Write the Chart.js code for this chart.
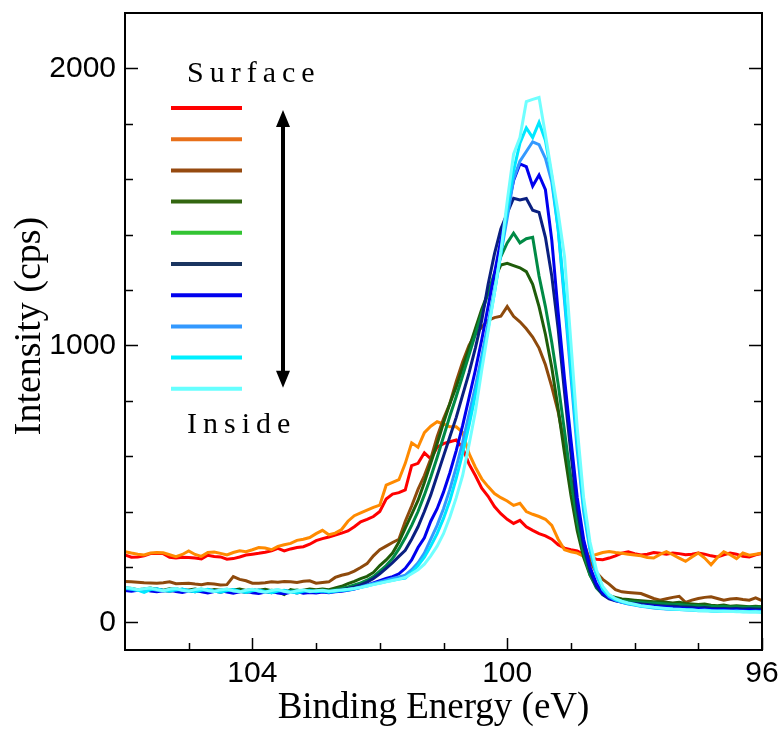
<!DOCTYPE html>
<html>
<head>
<meta charset="utf-8">
<script src="https://cdn.jsdelivr.net/npm/chart.js@4.4.1/dist/chart.umd.min.js"></script>
<style>
  html, body { margin: 0; padding: 0; background: #fff; }
  #wrap { width: 782px; height: 731px; position: relative; }
</style>
</head>
<body>
<div id="wrap"><canvas id="c" width="782" height="731"></canvas></div>
<script>
// Binding energy grid (eV), high to low
const energies = [
  106.0,105.9,105.8,105.7,105.6,105.5,105.4,105.3,105.2,105.1,
  105.0,104.9,104.8,104.7,104.6,104.5,104.4,104.3,104.2,104.1,
  104.0,103.9,103.8,103.7,103.6,103.5,103.4,103.3,103.2,103.1,
  103.0,102.9,102.8,102.7,102.6,102.5,102.4,102.3,102.2,102.1,
  102.0,101.9,101.8,101.7,101.6,101.5,101.4,101.3,101.2,101.1,
  101.0,100.9,100.8,100.7,100.6,100.5,100.4,100.3,100.2,100.1,
  100.0,99.9,99.8,99.7,99.6,99.5,99.4,99.3,99.2,99.1,
  99.0,98.9,98.8,98.7,98.6,98.5,98.4,98.3,98.2,98.1,
  98.0,97.9,97.8,97.7,97.6,97.5,97.4,97.3,97.2,97.1,
  97.0,96.9,96.8,96.7,96.6,96.5,96.4,96.3,96.2,96.1,
  96.0
];

// Intensity (cps), one spectrum per depth, surface first
const depth1 = [
  243,235,236,240,248,249,248,235,232,235,234,232,229,242,238,236,228,230,236,243,
  246,249,253,258,267,258,265,270,273,282,295,302,308,315,322,330,345,363,372,382,400,
  445,463,468,478,566,574,612,590,632,645,652,658,630,572,530,484,455,418,392,372,357,368,345,332,320,
  312,300,280,268,262,258,245,235,228,226,232,240,250,255,248,243,246,252,249,246,
  250,248,244,246,250,246,240,236,244,250,246,238,236,244,249
];
const depth2 = [
  255,250,246,243,250,252,251,244,237,245,258,245,238,252,254,249,243,252,258,255,
  262,270,268,262,274,280,285,296,300,306,320,332,316,322,335,365,385,395,405,415,423,
  495,505,515,574,648,632,685,708,724,716,706,706,686,610,560,518,490,465,450,438,422,430,400,390,382,
  372,350,300,262,255,250,238,236,245,252,256,252,249,246,243,240,234,232,245,255,
  244,232,220,236,250,232,208,234,255,244,230,250,242,246,250
];
const depth3 = [
  147,146,145,143,142,141,143,146,139,140,141,138,136,140,138,135,136,165,155,150,
  141,141,143,146,145,147,146,144,148,150,141,144,146,162,170,175,185,198,212,240,262,
  275,288,300,365,420,480,530,590,670,735,790,870,
  940,1000,1040,1065,1090,1100,1105,1140,1105,1085,1060,1030,990,930,850,760,640,520,400,290,
  220,180,155,138,118,110,108,106,104,95,86,80,85,90,94,72,80,86,90,92,86,80,84,86,82,80,88,78
];
const depth4 = [
  125,122,118,120,124,119,116,121,118,114,117,120,115,112,118,116,113,117,120,115,
  112,116,119,114,110,100,118,113,116,120,
  118,120,118,124,130,140,148,158,166,180,205,225,250,290,
  340,390,440,505,575,645,720,790,850,920,990,1060,1130,1190,1240,1290,1296,1288,1280,1266,
  1220,1140,1040,920,770,610,460,330,235,170,130,108,96,90,84,82,80,78,76,74,
  74,72,70,72,68,66,64,66,62,60,62,58,60,58,56,58,56
];
const depth5 = [
  120,118,115,119,122,117,114,118,121,116,113,117,119,114,111,116,118,113,110,115,
  118,114,111,116,113,109,114,117,112,115,
  113,116,114,118,122,128,135,142,152,165,185,205,230,265,
  305,350,400,460,525,595,670,745,815,890,965,1040,1115,1190,1260,1320,1370,1405,1370,1385,
  1390,1250,1140,1010,860,690,515,365,250,172,124,100,88,82,78,76,74,72,70,70,
  68,66,64,64,62,60,60,58,58,56,57,55,56,54,55,54,55
];
const depth6 = [
  118,121,116,113,117,120,115,112,116,119,114,110,115,118,113,109,114,117,112,108,
  113,116,111,107,112,115,110,106,111,114,
  110,113,111,114,118,122,128,135,145,158,175,195,215,238,
  260,300,345,400,460,530,600,670,740,820,900,990,1090,1220,1330,1420,1477,1531,1525,1530,
  1488,1480,1390,1250,1060,830,610,410,275,185,130,100,85,78,74,70,68,66,64,62,
  60,58,58,56,55,54,52,53,51,50,50,49,50,48,49,48,47
];
const depth7 = [
  115,112,116,119,113,110,114,117,111,108,113,116,110,106,111,115,109,105,110,113,
  107,104,109,112,106,103,108,111,105,108,
  106,109,107,110,112,116,120,126,134,142,150,158,165,175,
  195,225,270,305,365,410,470,540,620,710,810,910,1020,1140,1260,1380,1490,1595,1655,1645,
  1575,1615,1562,1380,1120,880,660,450,300,200,140,105,88,78,72,68,65,62,60,58,
  56,55,53,52,50,48,49,47,46,45,46,44,45,43,44,42,43
];
const depth8 = [
  122,119,115,118,121,116,113,118,120,115,112,117,119,114,111,116,119,113,110,115,
  118,112,109,114,117,111,108,113,116,110,
  112,114,110,113,116,118,122,128,134,140,146,152,158,164,
  170,190,215,250,300,350,410,480,560,650,750,850,960,1080,1200,1330,1460,1600,1665,1700,
  1735,1725,1675,1590,1420,1160,890,620,400,260,170,118,92,80,72,66,62,58,55,52,
  50,48,47,46,45,44,43,44,42,41,42,40,41,40,39,40,39
];
const depth9 = [
  124,120,116,108,118,121,115,112,117,120,114,110,116,119,113,109,115,118,112,108,
  114,117,111,107,113,116,110,106,112,115,
  110,113,109,112,115,117,121,126,131,137,142,147,152,156,
  160,180,205,235,275,320,375,440,520,610,710,820,935,1060,1190,1330,1490,1630,1730,1785,
  1750,1805,1740,1610,1420,1180,920,650,420,270,175,120,95,82,74,68,63,59,56,53,
  51,49,47,46,45,44,42,43,41,40,41,39,40,38,39,38,37
];
const depth10 = [
  126,123,118,121,124,118,114,119,122,116,112,118,121,115,111,117,120,114,110,116,
  119,113,109,115,118,112,108,114,117,111,
  114,116,112,115,117,119,122,126,131,136,141,146,151,156,
  162,175,190,210,240,275,320,380,450,530,640,760,910,1050,1190,1340,1520,1690,1750,1880,
  1888,1895,1760,1620,1480,1320,1010,700,450,290,190,130,100,85,76,70,65,60,57,54,
  52,50,48,47,45,44,43,42,41,40,39,40,38,39,37,38,36
];

const spectra = [depth1, depth2, depth3, depth4, depth5, depth6, depth7, depth8, depth9, depth10];
const lineColors = ['#ff0000', '#ff8a00', '#8e4a0c', '#1f5c0a', '#008a45', '#0a1f80', '#0000ee', '#3399ff', '#00e8ff', '#70ffff'];
const keyColors  = ['#ff0000', '#e8701a', '#964a10', '#336610', '#33c433', '#1a3560', '#0000ee', '#3399ff', '#00f0ff', '#66ffff'];

// Axis ticks
const xMajorTicks = [104, 100, 96];
const xMinorTicks = [105, 104, 103, 102, 101, 100, 99, 98, 97, 96];
const yLabelTicks = [0, 1000, 2000];
const yMinorTicks = [0, 200, 400, 600, 800, 1000, 1200, 1400, 1600, 1800, 2000];

const keyTop = 'Surface';
const keyBottom = 'Inside';
const xTitle = 'Binding Energy (eV)';
const yTitle = 'Intensity (cps)';

const SANS = '"Liberation Sans", Arial, sans-serif';
const SERIF = '"Liberation Serif", "Times New Roman", serif';

function spacedText(ctx, text, x, y, spacing) {
  let cx = x;
  for (const ch of text) {
    ctx.fillText(ch, cx, y);
    cx += ctx.measureText(ch).width + spacing;
  }
}

const framePlugin = {
  id: 'frameAndKey',
  afterDraw(chart) {
    const { ctx, chartArea: a, scales: { x, y } } = chart;
    ctx.save();
    ctx.strokeStyle = '#000';
    ctx.lineWidth = 2;
    ctx.lineCap = 'butt';
    ctx.strokeRect(a.left, a.top, a.right - a.left, a.bottom - a.top);

    ctx.lineWidth = 1.5;
    ctx.beginPath();
    xMinorTicks.forEach(v => {
      const px = Math.round(x.getPixelForValue(v)) + 0.5;
      const len = xMajorTicks.includes(v) ? 12 : 7;
      ctx.moveTo(px, a.bottom); ctx.lineTo(px, a.bottom - len);
    });
    yMinorTicks.forEach(v => {
      const py = Math.round(y.getPixelForValue(v)) + 0.5;
      const len = yLabelTicks.includes(v) ? 13 : 8;
      ctx.moveTo(a.left, py); ctx.lineTo(a.left + len, py);
      ctx.moveTo(a.right, py); ctx.lineTo(a.right - len, py);
    });
    ctx.stroke();

    // depth key: coloured strokes with a two-headed arrow
    const kx0 = a.left + 46, kx1 = a.left + 117;
    const ky0 = a.top + 95, kstep = 31.2;
    ctx.lineWidth = 4;
    keyColors.forEach((c, i) => {
      ctx.strokeStyle = c;
      ctx.beginPath();
      ctx.moveTo(kx0, ky0 + i * kstep);
      ctx.lineTo(kx1, ky0 + i * kstep);
      ctx.stroke();
    });
    const ax = a.left + 158, ay0 = ky0 + 2, ay1 = ky0 + 9 * kstep - 1;
    ctx.strokeStyle = '#000';
    ctx.fillStyle = '#000';
    ctx.lineWidth = 4;
    ctx.beginPath();
    ctx.moveTo(ax, ay0 + 14); ctx.lineTo(ax, ay1 - 14);
    ctx.stroke();
    ctx.beginPath();
    ctx.moveTo(ax, ay0); ctx.lineTo(ax - 7, ay0 + 17); ctx.lineTo(ax + 7, ay0 + 17); ctx.closePath();
    ctx.moveTo(ax, ay1); ctx.lineTo(ax - 7, ay1 - 17); ctx.lineTo(ax + 7, ay1 - 17); ctx.closePath();
    ctx.fill();

    ctx.font = '30px ' + SERIF;
    ctx.textBaseline = 'alphabetic';
    ctx.textAlign = 'left';
    spacedText(ctx, keyTop, a.left + 62, a.top + 69, 6);
    spacedText(ctx, keyBottom, a.left + 62, a.top + 420, 6);

    // axis titles
    ctx.font = '37px ' + SERIF;
    ctx.textAlign = 'center';
    ctx.fillText(xTitle, (a.left + a.right) / 2 - 10, 718);
    ctx.save();
    ctx.font = '38px ' + SERIF;
    ctx.translate(40, 326);
    ctx.rotate(-Math.PI / 2);
    ctx.fillText(yTitle, 0, 0);
    ctx.restore();
    ctx.restore();
  }
};

const datasets = spectra.map((vals, i) => ({
  data: energies.map((e, k) => ({ x: e, y: vals[k] })),
  borderColor: lineColors[i],
  backgroundColor: lineColors[i],
  borderWidth: 3,
  pointRadius: 0,
  tension: 0,
  fill: false,
  order: spectra.length - i
}));

new Chart(document.getElementById('c'), {
  type: 'line',
  data: { datasets },
  options: {
    responsive: false,
    animation: false,
    layout: { padding: { top: 13, right: 20, left: 0, bottom: 0 } },
    plugins: { legend: { display: false }, tooltip: { enabled: false } },
    scales: {
      x: {
        type: 'linear',
        min: 96, max: 106,
        reverse: true,
        grid: { display: false },
        border: { display: false },
        afterBuildTicks: s => { s.ticks = xMajorTicks.map(v => ({ value: v })); },
        afterFit: s => { s.height = 81; s.paddingLeft = 0; s.paddingRight = 0; },
        ticks: {
          padding: -2,
          color: '#000',
          font: { family: SANS, size: 30 },
          maxRotation: 0,
          autoSkip: false,
          callback: v => String(v)
        }
      },
      y: {
        type: 'linear',
        min: -100, max: 2200,
        grid: { display: false },
        border: { display: false },
        afterBuildTicks: s => { s.ticks = yLabelTicks.map(v => ({ value: v })); },
        afterFit: s => { s.width = 125; s.paddingTop = 0; s.paddingBottom = 0; },
        ticks: {
          padding: 1,
          color: '#000',
          font: { family: SANS, size: 30 },
          callback: v => String(v)
        }
      }
    }
  },
  plugins: [framePlugin]
});
</script>
</body>
</html>
